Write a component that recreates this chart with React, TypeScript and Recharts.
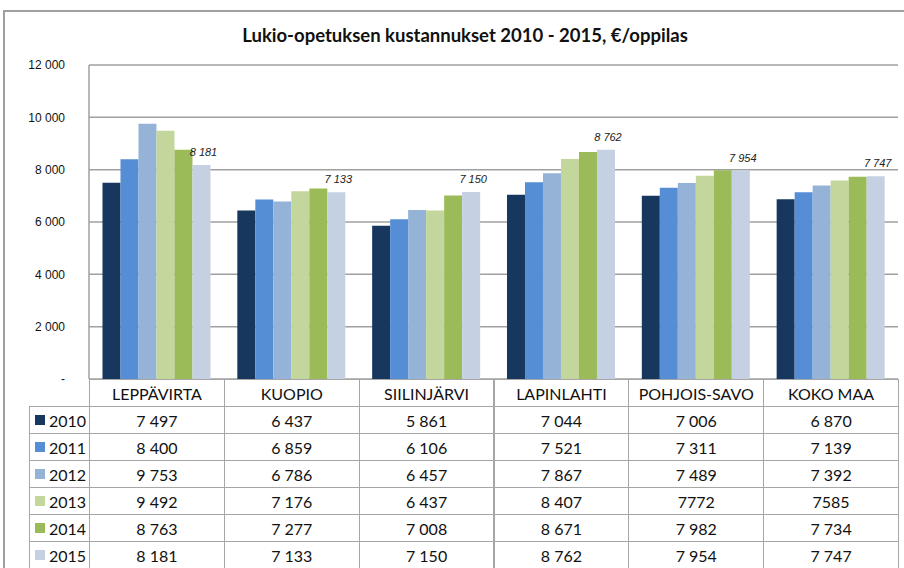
import { BarChart, Bar, XAxis, YAxis, CartesianGrid } from "recharts";

const categories = ["LEPPÄVIRTA", "KUOPIO", "SIILINJÄRVI", "LAPINLAHTI", "POHJOIS-SAVO", "KOKO MAA"];
const years = ["2010", "2011", "2012", "2013", "2014", "2015"];

const values2010 = [7497, 6437, 5861, 7044, 7006, 6870];
const values2011 = [8400, 6859, 6106, 7521, 7311, 7139];
const values2012 = [9753, 6786, 6457, 7867, 7489, 7392];
const values2013 = [9492, 7176, 6437, 8407, 7772, 7585];
const values2014 = [8763, 7277, 7008, 8671, 7982, 7734];
const values2015 = [8181, 7133, 7150, 8762, 7954, 7747];

const yTicks = [0, 2000, 4000, 6000, 8000, 10000, 12000];

// table cells that the source prints without a thousands space
const plainCells = ["POHJOIS-SAVO|2013", "KOKO MAA|2013"];

const seriesValues = [values2010, values2011, values2012, values2013, values2014, values2015];
const colors = ["#17375E", "#558ED5", "#95B3D7", "#C3D69B", "#9BBB59", "#C5D0E3"];

const data = categories.map((name, i) => {
  const row: Record<string, string | number> = { name };
  years.forEach((y, j) => {
    row["y" + y] = seriesValues[j][i];
  });
  return row;
});

const fmt = (v: number) => {
  if (v === 0) return "-";
  return String(v).replace(/\B(?=(\d{3})+(?!\d))/g, " ");
};

const PLOT_LEFT = 89;
const PLOT_RIGHT = 898;
const PLOT_TOP = 65;
const PLOT_BOTTOM = 379;
const COL_W = (PLOT_RIGHT - PLOT_LEFT) / categories.length;
const HEADER_H = 27;
const ROW_H = 27;
const BORDER = "#a6a6a6";
const tableFont = "Lato, 'Noto Sans', sans-serif";

const TopLabel = (props: any) => {
  const { x, y, width, value } = props;
  return (
    <text
      x={x + width / 2 + 2}
      y={y - 9}
      textAnchor="middle"
      fontSize={11}
      fontStyle="italic"
      fontFamily="'Liberation Sans', Arial, sans-serif"
      fill="#222"
    >
      {fmt(value)}
    </text>
  );
};

const cellStyle = (left: number, top: number, width: number, height: number): React.CSSProperties => ({
  position: "absolute",
  left,
  top,
  width,
  height,
  boxSizing: "border-box",
  display: "flex",
  alignItems: "center",
  justifyContent: "center",
  fontFamily: tableFont,
  fontSize: 16,
  color: "#111",
});

export default function App() {
  const headerTop = PLOT_BOTTOM;
  const bodyTop = headerTop + HEADER_H;
  return (
    <div style={{ position: "absolute", left: 0, top: 0, width: 904, height: 568, overflow: "hidden", background: "#fff" }}>
      <div
        style={{
          position: "absolute",
          left: 3,
          top: 10,
          width: 920,
          height: 600,
          borderTop: "2px solid #a0a0a0",
          borderLeft: "2px solid #a0a0a0",
          boxSizing: "border-box",
        }}
      />
      <div
        style={{
          position: "absolute",
          left: 0,
          top: 24,
          width: 930,
          textAlign: "center",
          fontFamily: tableFont,
          fontWeight: 700,
          fontSize: 18.5,
          color: "#111",
        }}
      >
        Lukio-opetuksen kustannukset 2010 - 2015, €/oppilas
      </div>
      <div style={{ position: "absolute", left: 0, top: 0 }}>
        <BarChart
          width={904}
          height={PLOT_BOTTOM + 14}
          data={data}
          margin={{ top: PLOT_TOP, right: 904 - PLOT_RIGHT, left: 0, bottom: 14 }}
          barCategoryGap="10%"
          barGap={0}
        >
          <CartesianGrid vertical={false} stroke="#a0a0a0" strokeWidth={1.5} />
          <XAxis dataKey="name" hide />
          <YAxis
            width={PLOT_LEFT}
            domain={[0, 12000]}
            ticks={yTicks}
            tickFormatter={fmt}
            tickLine={false}
            tickSize={0}
            tickMargin={24}
            axisLine={{ stroke: "#a0a0a0", strokeWidth: 1.5 }}
            tick={{ fill: "#111", fontSize: 12, fontFamily: "'Liberation Sans', Arial, sans-serif" }}
            interval={0}
          />
          {years.map((y, j) => (
            <Bar
              key={y}
              dataKey={"y" + y}
              fill={colors[j]}
              isAnimationActive={false}
              label={j === years.length - 1 ? TopLabel : undefined}
            />
          ))}
        </BarChart>
      </div>
      {categories.map((c, i) => (
        <div
          key={"h" + c}
          style={{
            ...cellStyle(PLOT_LEFT + i * COL_W, headerTop, COL_W + 1, HEADER_H + 1),
            border: `1px solid ${BORDER}`,
          }}
        >
          {c}
        </div>
      ))}
      {years.map((y, j) => (
        <div key={"r" + y}>
          <div
            style={{
              ...cellStyle(29, bodyTop + j * ROW_H, PLOT_LEFT - 29 + 1, ROW_H + 1),
              border: `1px solid ${BORDER}`,
              justifyContent: "flex-start",
              paddingLeft: 5,
            }}
          >
            <span style={{ display: "inline-block", width: 10, height: 10, background: colors[j], marginRight: 4 }} />
            {y}
          </div>
          {categories.map((c, i) => {
            const v = seriesValues[j][i];
            const text = plainCells.includes(c + "|" + y) ? String(v) : fmt(v);
            return (
              <div
                key={c}
                style={{
                  ...cellStyle(PLOT_LEFT + i * COL_W, bodyTop + j * ROW_H, COL_W + 1, ROW_H + 1),
                  border: `1px solid ${BORDER}`,
                }}
              >
                {text}
              </div>
            );
          })}
        </div>
      ))}
    </div>
  );
}
